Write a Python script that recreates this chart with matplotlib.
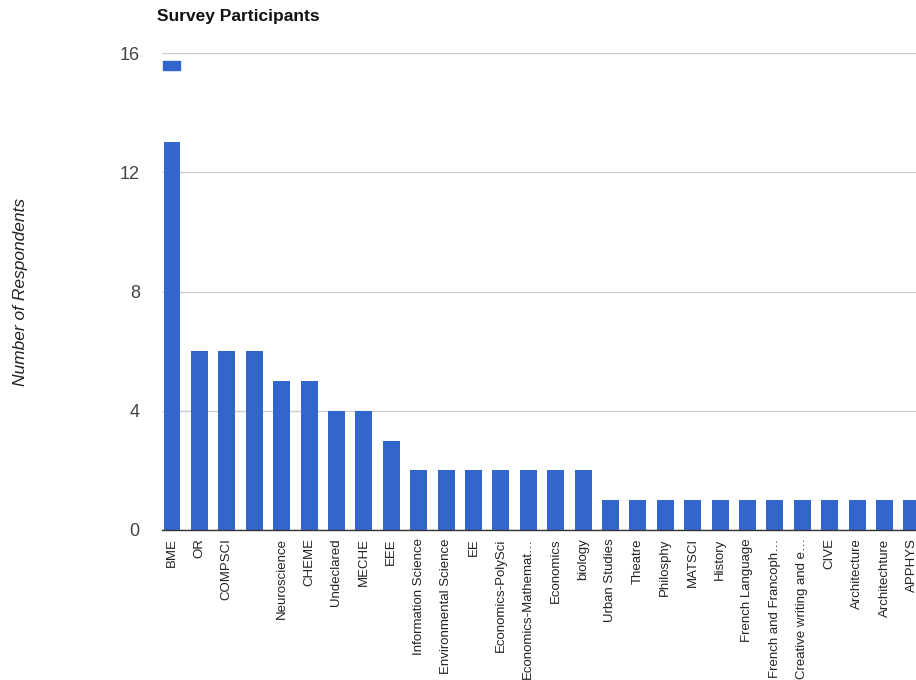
import matplotlib
matplotlib.use("Agg")
import matplotlib.pyplot as plt
from matplotlib.patches import Rectangle

plt.rcParams["font.family"] = ["Liberation Sans", "DejaVu Sans"]

majors = ["BME", "OR", "COMPSCI", "", "Neuroscience", "CHEME", "Undeclared",
          "MECHE", "EEE", "Information Science", "Environmental Science", "EE",
          "Economics-PolySci", "Economics-Mathemat…", "Economics", "biology",
          "Urban Studies", "Theatre", "Philosphy", "MATSCI", "History",
          "French Language", "French and Francoph…", "Creative writing and e…",
          "CIVE", "Architecture", "Architechture", "APPHYS"]
counts = [13, 6, 6, 6, 5, 5, 4, 4, 3, 2, 2, 2, 2, 2, 2, 2,
          1, 1, 1, 1, 1, 1, 1, 1, 1, 1, 1, 1]
yticks = [0, 4, 8, 12, 16]

BLUE = "#3366CC"

fig = plt.figure(figsize=(9.16, 6.8), dpi=100)
# plot area runs off the right edge, last column is clipped
ax = fig.add_axes([162 / 916, 1 - 530 / 680, 1 - 162 / 916, 477 / 680])

x = list(range(len(majors)))
ax.bar(x, counts, width=0.62, color=BLUE, zorder=3)

ax.set_xlim(-0.365, 27.15)
ax.set_ylim(0, 16)
ax.set_yticks(yticks)
ax.set_yticklabels([str(v) for v in yticks], fontsize=13, color="#444444")
ax.set_xticks(x)
ax.set_xticklabels(majors, rotation=90, fontsize=9.5, color="#222222", va="top", ha="center")
ax.tick_params(axis="both", length=0)
ax.tick_params(axis="y", pad=16)
ax.tick_params(axis="x", pad=6)

ax.grid(axis="y", color="#cccccc", linewidth=1, zorder=0)
for s in ["top", "right", "left"]:
    ax.spines[s].set_visible(False)
ax.spines["bottom"].set_color("#333333")
ax.spines["bottom"].set_linewidth(1)
ax.spines["bottom"].set_zorder(4)

# legend swatch under the top gridline
ax.add_patch(Rectangle((1 / 754, 1 - 17 / 477), 17 / 754, 9 / 477,
                       transform=ax.transAxes, color=BLUE, clip_on=False))

ax.set_ylabel("Number of Respondents", fontsize=12.5, style="italic", color="#222222")
ax.yaxis.set_label_coords((28 - 162) / 754, 0.5)

fig.text(157 / 916, 1 - 16 / 680, "Survey Participants", fontsize=12.5,
         fontweight="bold", color="#111111", ha="left", va="center")

fig.savefig("out.png", dpi=100, facecolor="white")
